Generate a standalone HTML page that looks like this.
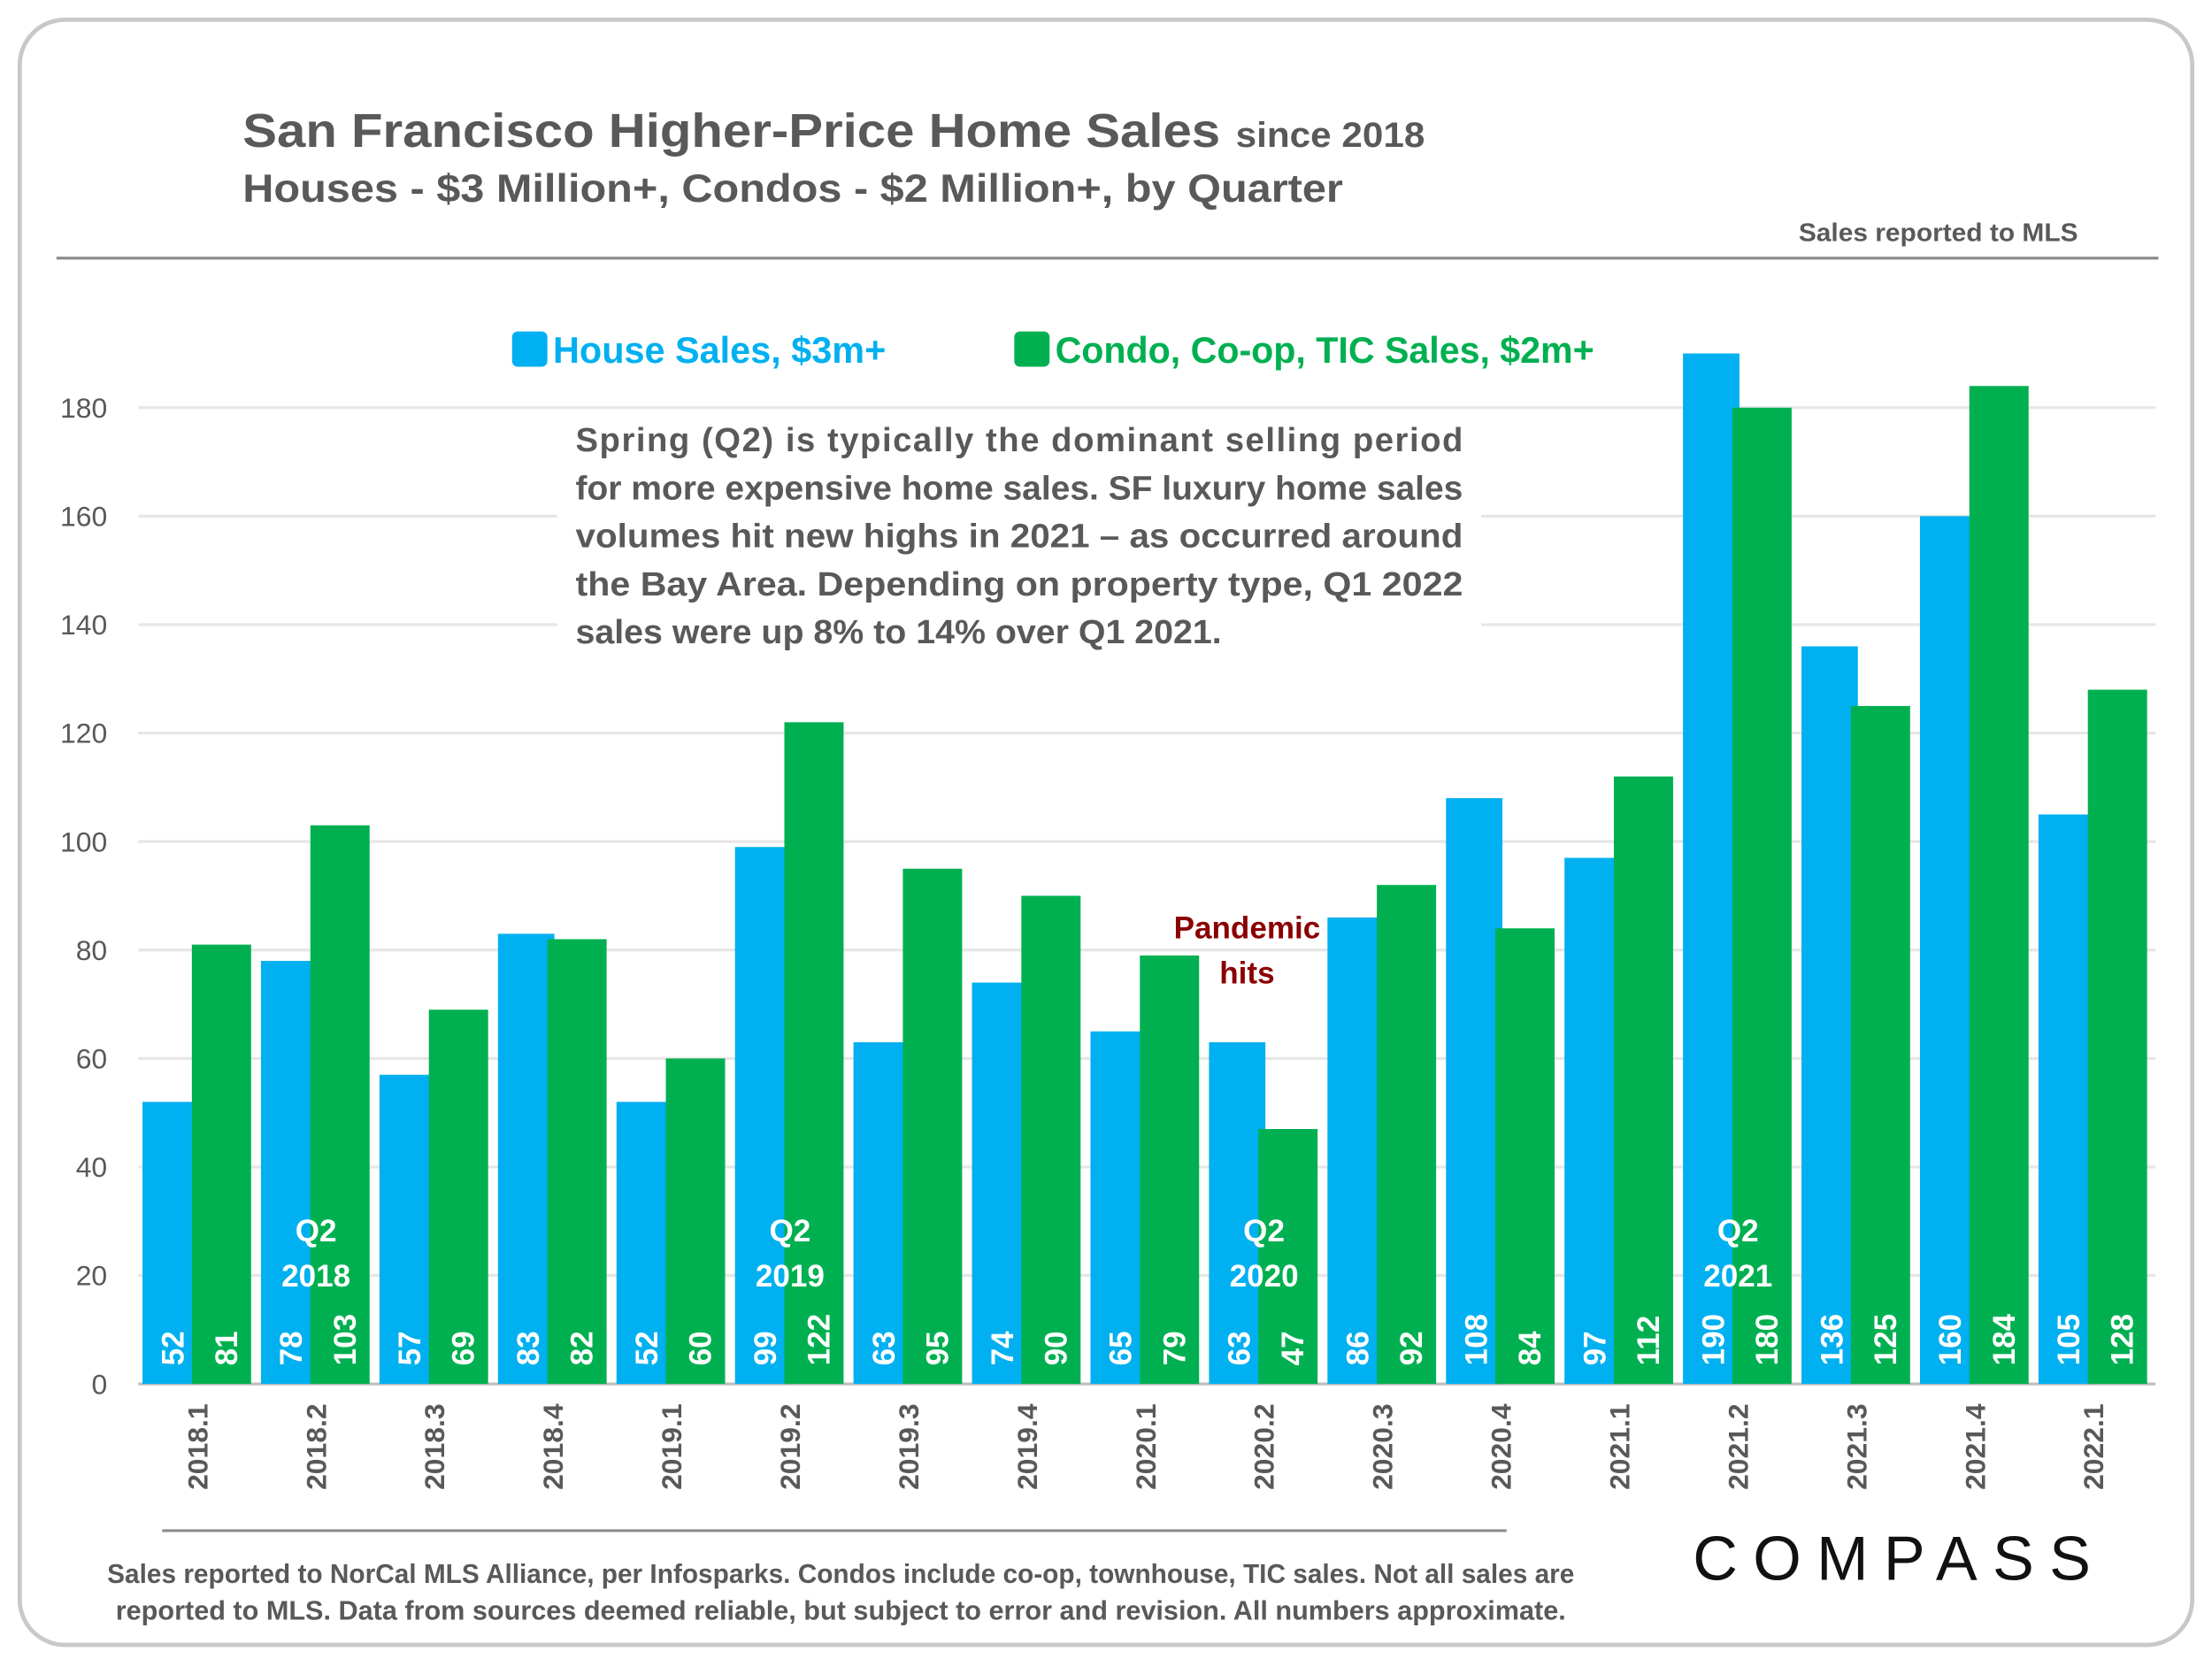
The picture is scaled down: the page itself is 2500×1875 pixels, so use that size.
<!DOCTYPE html>
<html><head><meta charset="utf-8"><style>
html,body{margin:0;padding:0;background:#fff}
svg{display:block}
text{font-family:"Liberation Sans",sans-serif;font-weight:bold}
</style></head><body>
<svg id="chart" width="2500" height="1875" viewBox="0 0 1568 1176" xmlns="http://www.w3.org/2000/svg">
<rect x="14" y="14" width="1540" height="1152" rx="32" fill="#fff" stroke="#c8c8c8" stroke-width="3"/>
<text x="172" y="104" font-size="34" fill="#595959" textLength="693" lengthAdjust="spacingAndGlyphs">San Francisco Higher-Price Home Sales</text>
<text x="876" y="104" font-size="25" fill="#595959" textLength="134" lengthAdjust="spacingAndGlyphs">since 2018</text>
<text x="172" y="143" font-size="28" fill="#595959" textLength="780" lengthAdjust="spacingAndGlyphs">Houses - $3 Million+, Condos - $2 Million+, by Quarter</text>
<text x="1473" y="171" font-size="18" fill="#595959" text-anchor="end" textLength="198" lengthAdjust="spacingAndGlyphs">Sales reported to MLS</text>
<line x1="40" y1="183" x2="1530" y2="183" stroke="#8c8c8c" stroke-width="2"/>
<g id="grid"></g>
<g id="bars"></g>
<g id="labels"></g>
<rect x="363" y="235" width="25" height="25" rx="4" fill="#00b0f0"/>
<text x="392" y="257" font-size="26" fill="#00b0f0" textLength="236" lengthAdjust="spacingAndGlyphs">House Sales, $3m+</text>
<rect x="719" y="235" width="25" height="25" rx="4" fill="#00b050"/>
<text x="748" y="257" font-size="26" fill="#00b050" textLength="382" lengthAdjust="spacingAndGlyphs">Condo, Co-op, TIC Sales, $2m+</text>
<g>
<rect x="395" y="292" width="655" height="176" fill="#fff"/>
<g font-size="24" fill="#595959">
<text x="408" y="320" textLength="629" lengthAdjust="spacing">Spring (Q2) is typically the dominant selling period</text>
<text x="408" y="354" textLength="629" lengthAdjust="spacingAndGlyphs">for more expensive home sales. SF luxury home sales</text>
<text x="408" y="388" textLength="629" lengthAdjust="spacingAndGlyphs">volumes hit new highs in 2021 – as occurred around</text>
<text x="408" y="422" textLength="629" lengthAdjust="spacingAndGlyphs">the Bay Area. Depending on property type, Q1 2022</text>
<text x="408" y="456" textLength="458" lengthAdjust="spacingAndGlyphs">sales were up 8% to 14% over Q1 2021.</text>
</g></g>
<text font-size="22" fill="#8b0000" text-anchor="middle"><tspan x="884" y="665">Pandemic</tspan><tspan x="884" y="697">hits</tspan></text>
<line x1="115" y1="1085" x2="1068" y2="1085" stroke="#8c8c8c" stroke-width="2"/>
<text font-size="19" fill="#595959" text-anchor="middle"><tspan x="596" y="1122" textLength="1040" lengthAdjust="spacingAndGlyphs">Sales reported to NorCal MLS Alliance, per Infosparks. Condos include co-op, townhouse, TIC sales. Not all sales are</tspan><tspan x="596" y="1148" textLength="1028" lengthAdjust="spacingAndGlyphs">reported to MLS. Data from sources deemed reliable, but subject to error and revision. All numbers  approximate.</tspan></text>
<text x="1200" y="1120" font-size="44" fill="#111" style="font-weight:normal" textLength="282" lengthAdjust="spacing">COMPASS</text>
</svg>
<script>
const categories=["2018.1","2018.2","2018.3","2018.4","2019.1","2019.2","2019.3","2019.4","2020.1","2020.2","2020.3","2020.4","2021.1","2021.2","2021.3","2021.4","2022.1"];
const houseSales=[52,78,57,83,52,99,63,74,65,63,86,108,97,190,136,160,105];
const condoSales=[81,103,69,82,60,122,95,90,79,47,92,84,112,180,125,184,128];
const yTicks=[0,20,40,60,80,100,120,140,160,180];
const q2Labels=[["2018.2","2018"],["2019.2","2019"],["2020.2","2020"],["2021.2","2021"]];
const NS="http://www.w3.org/2000/svg";
const x0=98,groupW=84,y0=981,pxPer=(981-289)/180;
const yS=v=>y0-v*pxPer;
const gx=i=>x0+i*groupW;
function mk(tag,attrs,parent,txt){const e=document.createElementNS(NS,tag);for(const k in attrs)e.setAttribute(k,attrs[k]);if(txt!==undefined)e.textContent=txt;parent.appendChild(e);return e;}
const grid=document.getElementById('grid'),bars=document.getElementById('bars'),labels=document.getElementById('labels');
yTicks.forEach(t=>{
  const l=mk('line',{x1:x0,x2:1528,y1:yS(t),y2:yS(t),stroke:t===0?'#bfbfbf':'#e6e6e6','stroke-width':2},grid);
  
  
  const tx=mk('text',{x:76,y:yS(t)+7,'font-size':20,fill:'#595959','text-anchor':'end',style:'font-weight:normal'},grid,String(t));
  
  
});
categories.forEach((c,i)=>{
  const g=gx(i);
  const hb=mk('rect',{x:g+3,y:yS(houseSales[i]),width:40,height:houseSales[i]*pxPer,fill:'#00b0f0'},bars);
  
  
  const cb=mk('rect',{x:g+38,y:yS(condoSales[i]),width:42,height:condoSales[i]*pxPer,fill:'#00b050'},bars);
  
  
  const hx=g+24,cx=g+62;
  const hv=mk('text',{x:0,y:0,'font-size':22,fill:'#fff',transform:`translate(${hx+8},968) rotate(-90)`},labels,String(houseSales[i]));
  
  
  const cv=mk('text',{x:0,y:0,'font-size':22,fill:'#fff',transform:`translate(${cx+8},968) rotate(-90)`},labels,String(condoSales[i]));
  
  
  const xl=mk('text',{x:0,y:0,'font-size':20,fill:'#595959','text-anchor':'end',transform:`translate(${g+49},995) rotate(-90)`},labels,c);
  
  
});
q2Labels.forEach(q=>{
  const i=categories.indexOf(q[0]);const cxq=gx(i)+42;
  const t=mk('text',{'font-size':22,fill:'#fff','text-anchor':'middle'},labels);
  
  
  mk('tspan',{x:cxq,y:880},t,'Q2');
  mk('tspan',{x:cxq,y:912},t,q[1]);
});
</script>
</body></html>
